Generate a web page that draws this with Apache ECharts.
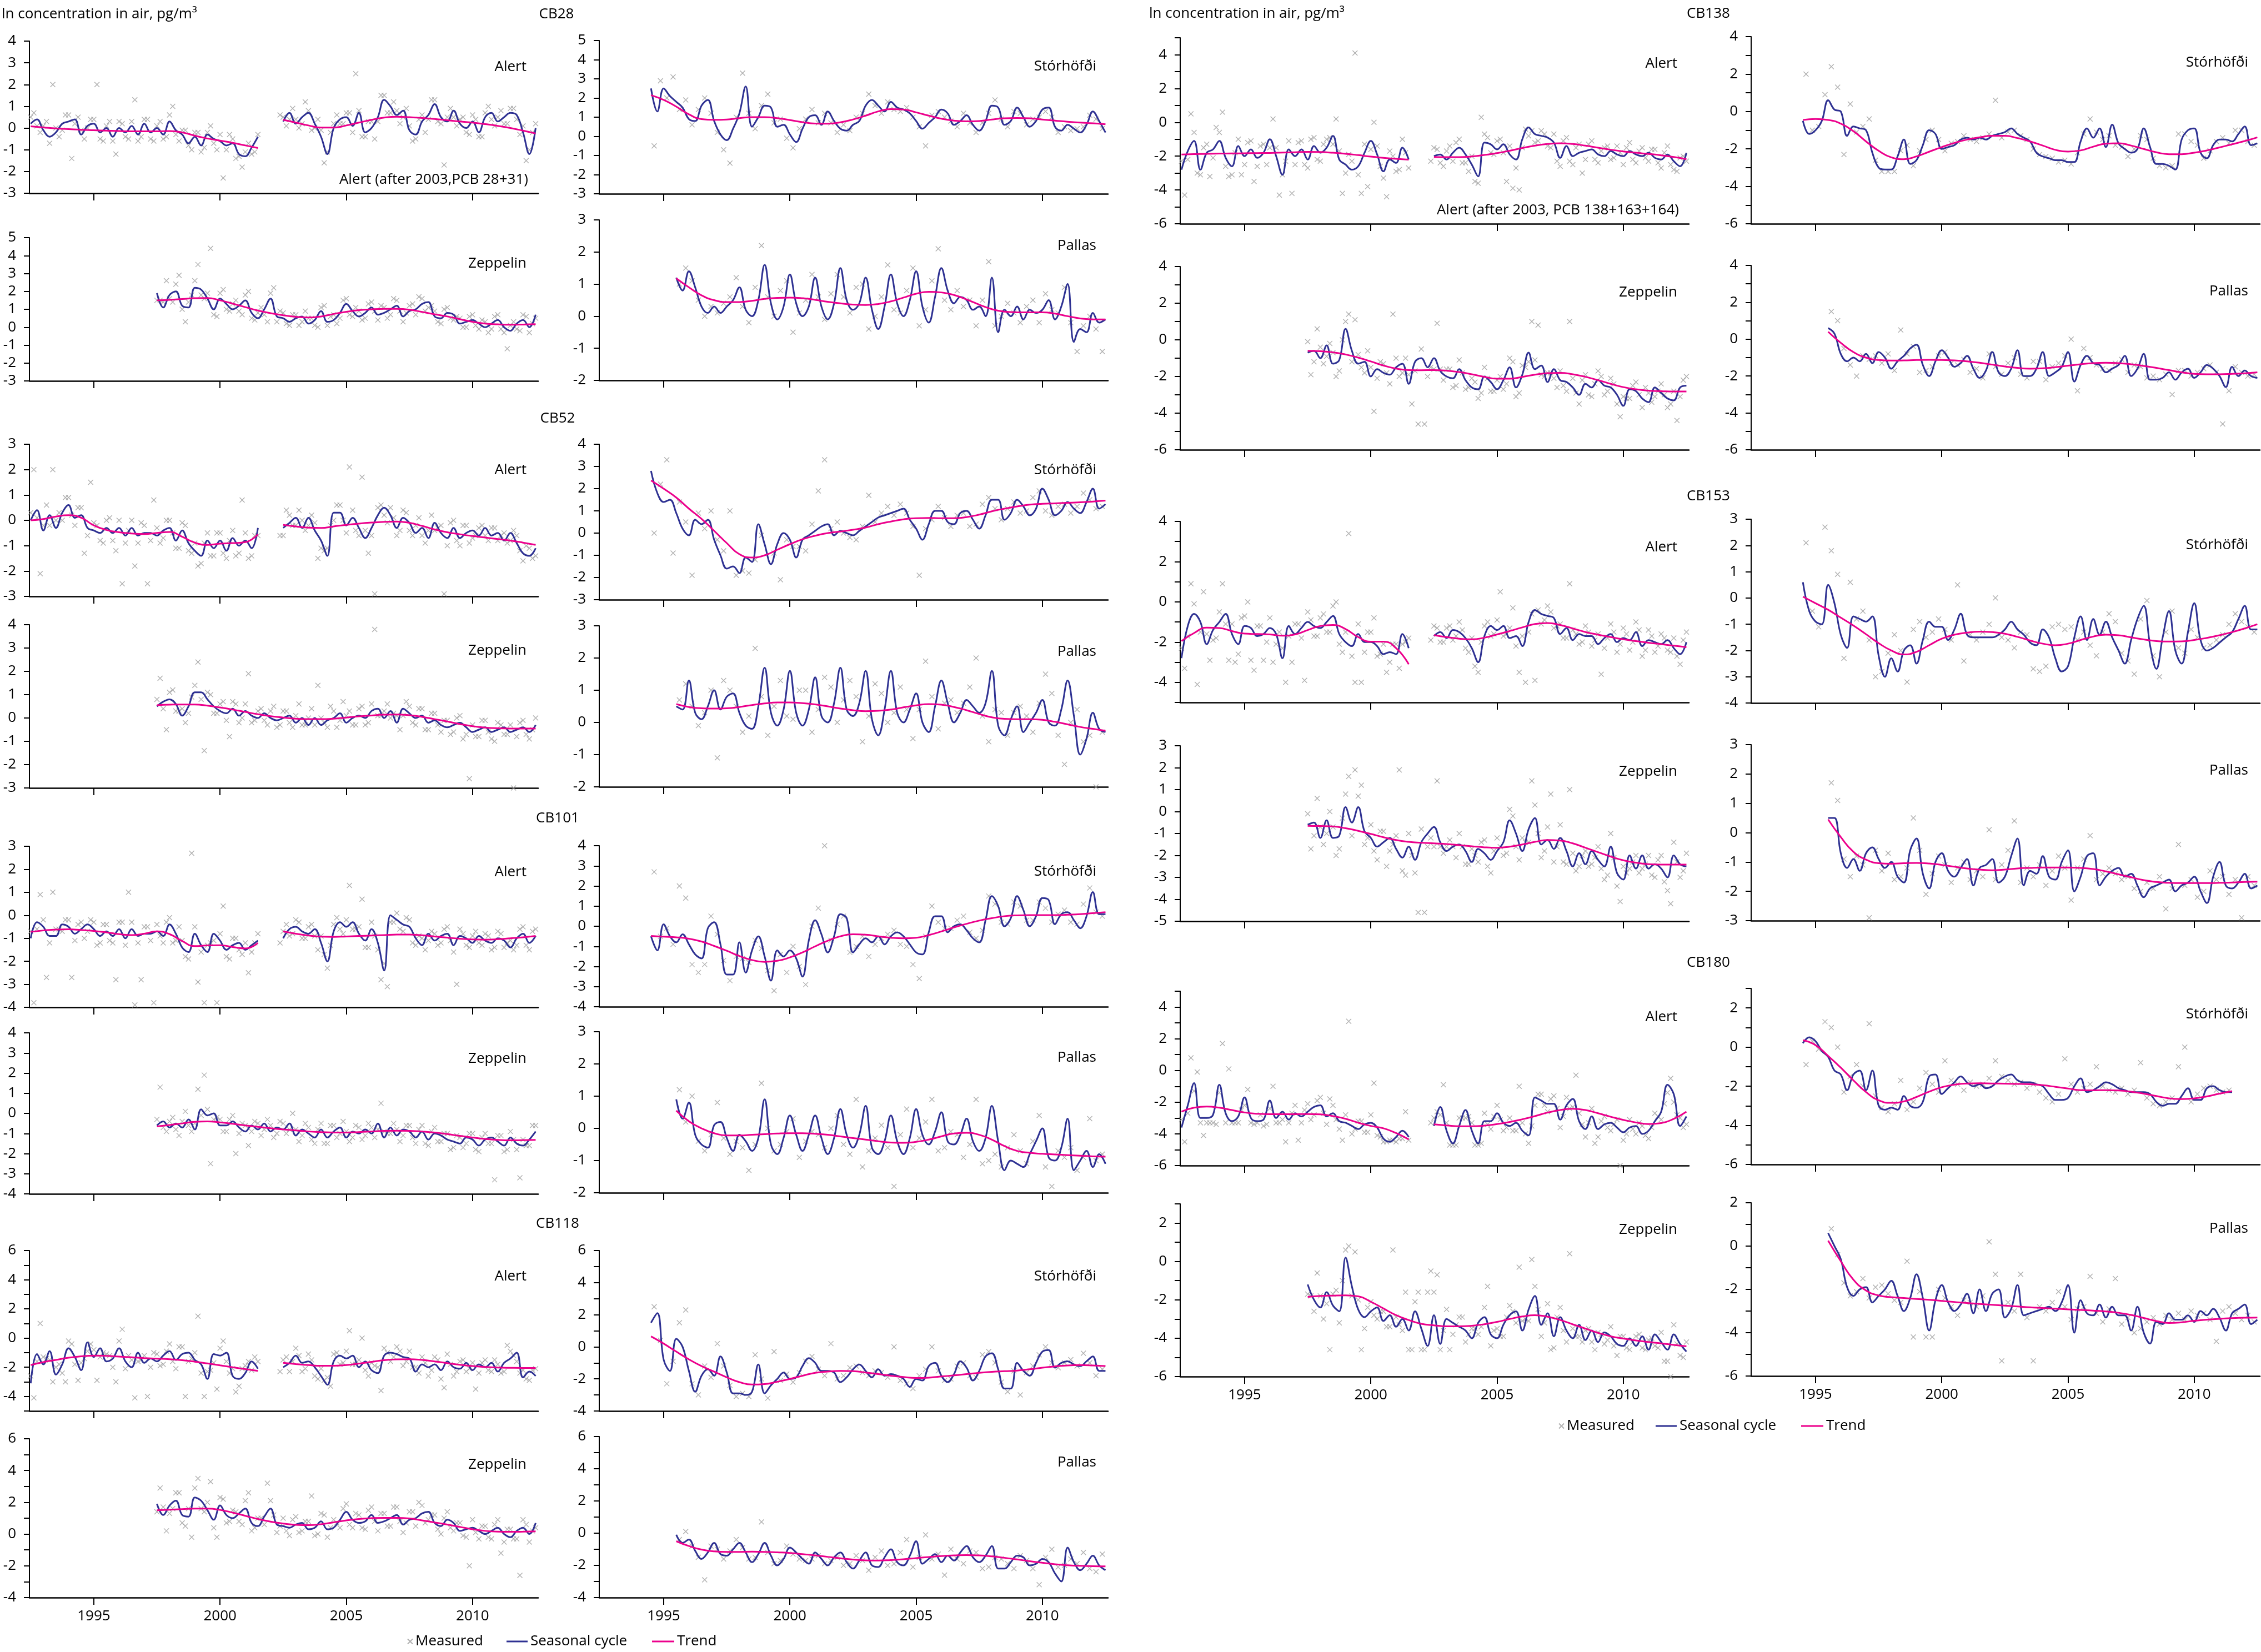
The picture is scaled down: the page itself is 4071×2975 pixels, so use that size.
<!DOCTYPE html>
<html lang="en">
<head>
<meta charset="UTF-8">
<title>PCB in Arctic air: seasonal cycle and trend</title>
<script src="https://cdn.jsdelivr.net/npm/echarts@6.0.0/dist/echarts.min.js"></script>
<style>
  html, body { margin: 0; padding: 0; background: #fff; }
  #chart { width: 4071px; height: 2975px; }
</style>
</head>
<body>
<div id="chart"></div>
<script>
// start of each station record (decimal year); seasonal every 0.25 yr, trend every 0.5 yr,
// measured every 0.25 yr offset by 0.125 yr (second measured set at the seasonal nodes
// for the densely sampled stations). null = no data (Alert gap 2001-2002)
const stationStart = { alert: 1992.5, stor: 1994.5, zep: 1997.5, pallas: 1995.5 };

// ---------- CB28 ----------
const cb28AlertSeason = [0.2,0.4,-0.1,-0.4,-0.2,0.2,0.3,0.4,-0.3,0.1,0.2,-0.2,0.0,-0.4,0.0,-0.2,0.1,-0.3,0.2,-0.2,0.0,-0.3,0.3,-0.1,-0.3,-0.7,-0.4,-0.8,-0.3,-0.5,-0.6,-0.8,-0.7,-1.2,-1.3,-0.9,-0.4,null,null,null,0.3,0.7,0.2,0.5,0.7,0.2,-0.4,-1.2,0.0,0.4,0.5,0.1,0.7,-0.2,0.0,0.5,1.3,1.0,0.6,0.8,-0.1,-0.3,0.3,0.6,1.1,0.5,0.3,0.8,0.2,0.0,0.3,-0.2,0.5,0.7,0.3,0.5,0.7,0.6,-0.2,-1.2,0.0];
const cb28AlertTrend = [0.08,0.03,-0.02,-0.05,-0.08,-0.1,-0.12,-0.14,-0.15,-0.15,-0.15,-0.14,-0.2,-0.35,-0.48,-0.58,-0.68,-0.8,-0.92,null,0.38,0.25,0.12,0.02,0.02,0.12,0.25,0.38,0.48,0.52,0.5,0.46,0.42,0.36,0.3,0.25,0.18,0.1,0.0,-0.12,-0.25];
const cb28AlertMeas = [0.7,-0.2,0.3,2.0,-0.4,0.6,-1.4,0.5,-0.5,0.4,2.0,-0.6,0.3,-1.2,0.2,-0.5,1.3,-0.4,0.4,-0.6,0.3,-0.4,1.0,-0.6,-0.1,-1.0,-0.2,-0.9,0.1,-1.0,-2.3,-0.3,-1.4,-1.8,-0.7,-1.1,null,null,null,0.6,0.1,0.9,0.0,1.2,-0.1,0.4,-1.6,-0.2,0.6,0.2,0.7,2.5,-0.4,0.3,-0.5,1.5,0.7,1.2,0.2,0.9,-0.6,0.4,-0.2,1.3,0.3,-1.7,0.9,0.1,0.5,-0.3,0.4,-0.4,1.0,0.1,0.8,0.2,0.9,-0.3,-1.5,-0.2];
const cb28AlertMeas2 = [0.5,0.1,0.1,-0.7,0.0,-0.1,0.6,0.2,-0.1,0.0,0.4,-0.5,0.1,-0.6,0.3,-0.4,0.3,-0.6,0.4,-0.5,0.1,-0.5,0.6,-0.3,-0.1,-0.8,-0.2,-1.1,-0.2,-0.7,-0.3,-1.0,-0.5,-1.3,-1.1,-1.2,-0.3,null,null,null,0.5,0.4,0.4,0.2,0.8,0.0,-0.1,-1.1,0.2,0.2,0.7,-0.2,0.8,-0.4,0.3,0.3,1.5,0.7,0.8,0.5,0.1,-0.5,0.6,0.4,1.3,0.2,0.5,0.5,0.4,-0.2,0.6,-0.4,0.7,0.4,0.5,0.2,0.9,0.4,0.1,-1.0,0.2];
const cb28StorSeason = [2.5,1.3,2.5,2.1,1.8,1.5,0.9,0.8,1.6,1.9,0.8,0.1,-0.2,0.4,1.2,2.6,0.5,1.0,1.6,1.5,0.5,0.6,0.1,-0.3,0.4,1.0,1.1,0.6,1.3,0.8,0.4,0.3,0.6,0.8,1.6,1.9,1.6,1.3,1.8,1.5,1.4,1.2,0.8,0.4,0.7,1.0,1.4,1.2,0.6,0.8,1.1,0.6,0.3,0.8,1.6,1.5,0.6,0.8,1.5,1.0,0.5,0.8,1.4,1.5,0.5,0.3,0.6,0.4,0.2,0.6,1.3,0.8,0.2];
const cb28StorTrend = [2.15,1.9,1.55,1.15,0.9,0.86,0.88,0.95,1.0,1.0,0.95,0.85,0.74,0.67,0.66,0.73,0.88,1.08,1.3,1.42,1.4,1.25,1.08,0.92,0.82,0.78,0.8,0.88,0.94,0.96,0.94,0.88,0.82,0.76,0.72,0.68,0.63];
const cb28StorMeas = [-0.5,2.9,2.0,3.1,1.4,1.9,0.6,1.4,2.0,1.2,0.2,-0.7,-1.4,1.0,3.3,1.2,0.4,1.6,2.2,0.7,0.9,-0.1,-0.6,0.4,0.9,1.4,0.7,1.2,0.7,0.2,0.6,0.3,1.0,1.2,2.2,1.6,1.2,1.8,1.4,1.3,1.5,1.0,0.5,-0.5,1.1,1.3,1.0,0.8,0.5,1.2,0.7,0.2,0.7,1.2,1.9,0.9,0.5,1.3,1.2,0.6,0.9,1.0,1.3,1.0,0.2,0.5,0.3,0.4,0.5,1.1,0.9,0.4];
const cb28ZepSeason = [1.9,1.1,1.8,2.0,1.2,1.1,2.2,2.1,1.6,1.0,1.6,1.3,1.0,1.2,1.5,0.8,0.5,1.0,1.6,0.6,0.5,0.3,0.5,0.6,0.2,0.4,0.9,0.3,0.4,0.8,1.3,0.9,0.6,0.8,1.1,0.7,0.8,1.0,1.2,0.6,0.9,1.0,1.3,1.4,0.6,0.5,0.8,0.7,0.2,0.3,0.4,0.2,0.0,0.2,0.4,0.0,-0.2,0.2,0.4,0.0,0.7];
const cb28ZepTrend = [1.5,1.53,1.57,1.62,1.63,1.5,1.32,1.12,0.93,0.78,0.67,0.58,0.54,0.6,0.74,0.86,0.95,1.0,1.02,1.02,0.98,0.85,0.72,0.6,0.45,0.3,0.2,0.16,0.14,0.15,0.17];
const cb28ZepMeas = [1.5,2.6,1.4,2.9,0.3,1.8,3.5,1.6,4.4,0.6,2.1,0.9,1.5,0.7,2.0,0.4,1.1,0.3,2.2,0.9,0.2,0.7,0.1,0.9,0.5,0.0,1.2,0.6,0.2,1.5,0.7,1.1,0.4,1.3,0.9,1.2,0.5,1.6,0.9,0.8,1.3,1.7,0.9,1.2,0.3,1.0,0.5,0.6,0.0,0.6,0.1,0.4,-0.3,0.6,-0.1,-1.2,0.3,-0.2,0.6,0.2];
const cb28ZepMeas2 = [1.5,1.4,1.6,2.4,1.0,1.4,2.6,1.8,1.9,0.7,1.9,1.0,1.3,0.9,1.8,0.5,0.8,0.7,1.9,0.3,0.8,0.1,0.7,0.3,0.5,0.1,1.1,0.1,0.7,0.5,1.6,0.6,0.9,0.5,1.4,0.4,1.1,0.7,1.5,0.3,1.2,0.7,1.6,1.1,0.9,0.2,1.1,0.4,0.5,0.0,0.7,-0.1,0.3,-0.1,0.7,-0.3,0.1,-0.1,0.7,-0.3,0.5];
const cb28PallasSeason = [1.2,0.8,1.4,0.9,0.3,0.1,0.3,0.1,0.3,0.5,0.9,0.2,0.0,0.5,1.6,0.4,-0.1,0.3,1.3,0.4,0.0,0.3,1.2,0.3,-0.1,0.4,1.5,0.5,0.2,0.4,1.2,0.2,-0.4,0.3,1.3,0.4,0.0,0.5,1.4,0.3,-0.2,0.6,1.5,0.8,0.4,0.6,0.5,0.2,0.3,0.0,1.2,-0.5,0.2,0.0,0.3,-0.1,0.2,0.1,0.2,0.5,-0.1,0.3,1.0,-0.8,-0.4,-0.5,0.1,-0.2,-0.1];
const cb28PallasTrend = [1.18,0.9,0.65,0.5,0.44,0.44,0.48,0.54,0.57,0.58,0.56,0.51,0.45,0.4,0.36,0.35,0.38,0.46,0.58,0.7,0.76,0.74,0.66,0.52,0.36,0.22,0.14,0.12,0.12,0.12,0.08,0.0,-0.07,-0.1,-0.1];
const cb28PallasMeas = [1.0,1.5,1.1,0.5,0.0,0.3,0.1,0.4,0.6,1.2,0.3,-0.2,0.9,2.2,0.6,0.0,0.8,1.1,-0.5,0.1,0.5,1.3,0.6,-0.1,0.7,1.3,0.6,0.1,0.9,1.0,-0.4,0.0,0.6,1.6,0.2,0.1,0.8,1.5,-0.3,0.2,1.1,2.1,0.5,0.2,0.8,0.3,0.5,-0.3,0.5,1.7,-0.3,0.0,0.4,0.1,-0.2,0.3,0.5,-0.2,0.7,0.2,0.1,0.9,-0.2,-1.1,-0.3,0.0,-0.4,-1.1];

// ---------- CB52 ----------
const cb52AlertSeason = [0.0,0.4,-0.4,0.2,-0.3,0.3,0.6,0.1,0.2,-0.3,-0.4,-0.5,-0.3,-0.5,-0.3,-0.6,-0.3,-0.6,-0.5,-0.5,-0.6,-0.4,-0.3,-0.8,-0.4,-0.9,-1.2,-1.4,-0.8,-1.1,-0.8,-1.2,-0.7,-1.0,-0.8,-1.1,-0.3,null,null,null,-0.3,-0.1,0.1,-0.3,0.1,-0.4,-0.8,-1.4,0.3,0.3,-0.2,0.1,-0.3,-0.7,-0.3,0.2,0.5,0.2,-0.3,0.1,-0.1,-0.5,-0.3,-0.7,-0.1,-0.5,-0.7,-0.3,-0.7,-0.5,-0.4,-0.6,-0.3,-0.6,-0.5,-0.8,-0.5,-0.9,-1.3,-1.4,-1.1];
const cb52AlertTrend = [0.0,0.05,0.15,0.2,0.1,-0.2,-0.38,-0.47,-0.52,-0.54,-0.5,-0.46,-0.65,-0.88,-0.97,-0.92,-0.9,-0.86,-0.55,null,-0.18,-0.24,-0.29,-0.3,-0.24,-0.18,-0.13,-0.09,-0.06,-0.05,-0.1,-0.22,-0.36,-0.47,-0.55,-0.62,-0.68,-0.74,-0.8,-0.88,-0.97];
const cb52AlertMeas = [2.0,-2.1,0.6,2.0,0.3,0.9,0.2,0.5,-1.3,1.5,-0.2,-0.9,0.1,-1.2,-2.5,-0.4,-1.8,-0.1,-2.5,0.8,-0.9,0.0,-0.5,-1.1,-0.2,-1.3,-1.8,-0.9,-1.4,-0.5,-1.3,-0.8,-1.4,0.8,-1.5,-0.6,null,null,null,-0.6,0.4,-0.2,0.4,-0.4,0.2,-1.5,-1.2,-0.2,0.6,0.0,2.1,-0.4,1.7,-1.3,-2.9,0.6,-0.1,0.1,-0.4,0.3,-0.6,0.1,-0.9,0.2,-0.3,-2.9,-0.1,-0.8,-0.2,-0.9,-0.6,-0.2,-0.8,-0.3,-0.6,-0.9,-0.4,-1.2,-1.0,-1.5];
const cb52AlertMeas2 = [0.3,0.1,-0.2,-0.2,0.0,0.0,0.9,-0.2,0.5,-0.6,-0.1,-0.8,0.0,-0.8,0.0,-0.9,0.0,-0.9,-0.2,-0.8,-0.3,-0.7,0.0,-1.1,-0.1,-1.2,-0.9,-1.7,-0.5,-1.4,-0.5,-1.5,-0.4,-1.3,-0.5,-1.4,-0.6,null,null,null,-0.6,0.2,-0.2,0.0,-0.2,-0.1,-1.1,-1.1,0.0,0.6,-0.5,0.4,-0.6,-0.4,-0.6,0.5,0.2,0.5,-0.6,0.4,-0.4,-0.2,-0.6,-0.4,-0.4,-0.2,-1.0,0.0,-1.0,-0.2,-0.7,-0.3,-0.6,-0.3,-0.8,-0.5,-0.8,-0.6,-1.6,-1.1,-1.4];
const cb52StorSeason = [2.8,1.8,1.4,1.5,0.9,0.2,-0.1,0.6,0.4,0.6,-0.3,-1.0,-1.6,-1.5,-1.8,-1.1,-1.3,0.4,-0.5,-1.4,-0.5,0.0,-0.3,-1.1,-0.3,-0.1,0.1,0.3,0.4,-0.1,0.1,0.0,-0.1,0.1,0.3,0.5,0.7,0.8,0.9,1.0,1.1,0.6,0.2,-0.3,0.4,1.0,1.0,0.5,0.4,0.9,1.0,0.6,0.2,0.8,1.5,1.5,0.6,0.9,1.5,1.2,0.8,1.1,2.0,1.5,0.8,1.0,1.4,1.1,0.9,1.4,2.0,1.1,1.3];
const cb52StorTrend = [2.37,2.0,1.6,1.1,0.64,0.1,-0.45,-0.95,-1.1,-1.0,-0.75,-0.5,-0.28,-0.12,0.0,0.07,0.15,0.25,0.4,0.52,0.62,0.67,0.68,0.67,0.67,0.72,0.83,0.98,1.1,1.2,1.28,1.32,1.34,1.36,1.39,1.42,1.46];
const cb52StorMeas = [0.0,2.2,3.3,-0.9,1.4,0.5,-1.9,0.9,0.2,1.0,-0.3,-0.8,1.0,-1.9,-1.7,-1.8,-1.2,-0.1,-3.2,-0.9,-2.1,-0.3,-0.6,-0.6,-0.8,0.4,1.9,3.3,0.2,0.5,0.0,-0.2,-0.3,0.3,1.7,0.5,0.9,1.2,0.8,1.3,0.9,0.3,-1.9,0.2,0.6,1.2,0.7,0.3,0.8,0.9,0.3,0.4,1.3,1.6,1.1,0.6,1.1,1.4,0.9,1.0,1.6,1.9,1.0,0.8,1.2,1.3,0.9,1.2,1.8,1.5,1.1,1.2];
const cb52ZepSeason = [0.5,0.7,0.8,0.6,0.1,0.5,1.1,1.1,0.8,0.5,0.3,0.2,0.4,0.1,0.3,0.1,0.0,0.2,0.0,-0.1,0.0,0.1,-0.2,0.0,-0.3,0.0,-0.3,-0.1,0.0,0.2,-0.2,0.0,0.1,0.0,0.3,0.4,0.0,0.3,-0.2,0.4,0.2,0.0,0.1,-0.2,-0.1,-0.3,-0.4,-0.3,-0.2,-0.4,-0.6,-0.5,-0.4,-0.6,-0.5,-0.4,-0.6,-0.5,-0.4,-0.6,-0.3];
const cb52ZepTrend = [0.55,0.57,0.58,0.58,0.53,0.45,0.36,0.26,0.16,0.08,0.02,-0.03,-0.05,-0.05,-0.03,0.02,0.07,0.11,0.14,0.15,0.12,0.05,-0.05,-0.15,-0.26,-0.35,-0.41,-0.44,-0.45,-0.45,-0.45];
const cb52ZepMeas = [1.7,-0.5,1.2,0.3,-0.2,0.9,2.4,-1.4,1.0,0.2,0.7,-0.8,0.6,0.0,1.9,-0.1,0.4,-0.3,0.5,-0.3,0.3,-0.4,0.6,-0.3,0.4,1.4,-0.2,0.5,-0.4,0.7,0.3,-0.3,0.5,-0.2,3.8,0.1,0.6,0.2,-0.5,0.7,-0.2,0.4,-0.5,0.2,-0.3,-0.1,-0.7,0.0,-0.9,-2.6,-0.8,-0.1,-0.6,-1.0,-0.3,-0.7,-3.0,-0.2,-0.7,-0.5];
const cb52ZepMeas2 = [0.8,0.4,1.1,0.3,0.4,0.2,1.4,0.8,1.1,0.2,0.6,-0.1,0.7,-0.2,0.6,-0.2,0.3,-0.1,0.3,-0.4,0.3,-0.2,0.1,-0.3,0.0,-0.3,0.0,-0.4,0.3,-0.1,0.1,-0.3,0.4,-0.3,0.6,0.1,0.3,0.0,0.1,0.1,0.5,-0.3,0.4,-0.5,0.2,-0.6,-0.1,-0.6,0.1,-0.7,-0.3,-0.8,-0.1,-0.9,-0.2,-0.7,-0.3,-0.8,-0.1,-0.9,0.0];
const cb52PallasSeason = [0.5,0.4,1.3,0.3,0.1,0.5,1.0,0.4,0.8,0.9,0.3,-0.1,-0.2,0.5,1.7,0.3,-0.1,0.4,1.6,0.3,-0.1,0.4,1.4,0.2,0.0,0.6,1.7,0.4,0.2,0.6,1.6,0.1,-0.4,0.4,1.6,0.3,0.0,0.4,0.9,0.0,-0.3,0.5,1.3,0.6,0.0,0.3,0.7,0.5,0.3,0.6,1.6,-0.1,-0.4,0.1,0.5,-0.3,0.0,0.3,0.7,0.0,-0.1,0.4,1.3,0.2,-1.0,-0.5,0.3,-0.2,-0.3];
const cb52PallasTrend = [0.57,0.48,0.44,0.43,0.44,0.48,0.54,0.59,0.62,0.62,0.6,0.56,0.5,0.43,0.38,0.35,0.36,0.4,0.47,0.53,0.57,0.55,0.48,0.38,0.26,0.16,0.11,0.1,0.1,0.08,0.02,-0.06,-0.14,-0.2,-0.26];
const cb52PallasMeas = [0.7,1.2,0.5,-0.1,0.3,1.0,-1.1,1.3,1.0,0.5,-0.3,0.2,2.3,0.8,-0.4,0.5,1.3,0.2,0.1,1.0,1.0,-0.3,0.4,1.4,1.1,0.0,0.7,1.3,0.8,-0.6,0.2,1.2,0.9,0.0,0.3,1.1,0.4,-0.5,0.4,1.9,0.8,-0.2,0.6,0.7,0.3,0.6,1.1,2.0,0.2,-0.6,0.4,0.3,-0.4,0.3,0.5,0.2,-0.3,0.6,1.5,0.9,-0.4,-1.3,0.0,0.4,-0.6,-0.4,-2.0,-0.3];

// ---------- CB101 ----------
const cb101AlertSeason = [-1.0,-0.3,-0.5,-0.9,-0.9,-0.4,-0.5,-0.8,-0.6,-0.4,-0.6,-0.9,-0.7,-0.9,-0.6,-1.0,-0.6,-0.9,-0.8,-0.8,-0.7,-0.9,-0.4,-0.8,-1.4,-1.6,-0.8,-1.3,-1.6,-0.8,-1.1,-1.5,-1.3,-1.2,-1.5,-1.3,-1.1,null,null,null,-1.0,-0.6,-0.5,-0.7,-0.8,-0.6,-1.2,-2.0,-0.7,-0.3,-0.5,-0.3,-0.8,-1.1,-0.6,-1.2,-2.4,0.0,-0.2,-0.4,-0.5,-1.0,-1.3,-0.8,-1.1,-0.9,-0.8,-1.3,-0.9,-1.0,-1.2,-0.9,-1.1,-1.2,-1.0,-1.1,-1.4,-1.0,-0.8,-1.2,-0.9];
const cb101AlertTrend = [-0.72,-0.66,-0.62,-0.61,-0.64,-0.68,-0.74,-0.82,-0.86,-0.8,-0.7,-0.82,-1.12,-1.34,-1.31,-1.3,-1.38,-1.44,-1.2,null,-0.7,-0.8,-0.88,-0.93,-0.94,-0.92,-0.9,-0.88,-0.86,-0.84,-0.84,-0.87,-0.92,-0.97,-1.02,-1.05,-1.06,-1.04,-1.0,-0.96,-0.9];
const cb101AlertMeas = [-3.8,0.9,-2.7,1.0,-0.6,-0.2,-2.7,-0.4,-1.0,-0.2,-1.3,-0.4,-1.1,-2.8,-0.3,1.0,-3.9,-2.8,-0.5,-3.8,-0.9,-0.3,-1.2,-0.5,-1.8,2.7,-2.9,-3.8,-1.2,-3.8,0.4,-1.9,-1.0,-1.7,-2.5,-1.2,null,null,null,-1.2,-0.4,-0.8,-0.3,-1.0,-0.4,-1.5,-1.7,-1.3,-0.1,-0.8,1.3,-0.6,0.7,-1.4,-0.9,-2.8,-3.1,-0.3,-0.6,-0.1,-1.2,-0.9,-1.5,-0.7,-1.3,-0.6,-1.1,-3.0,-0.8,-1.4,-0.7,-1.3,-0.9,-1.4,-0.8,-1.2,-1.5,-0.6,-1.3,-0.7];
const cb101AlertMeas2 = [-0.7,-0.6,-0.2,-1.2,-0.6,-0.7,-0.2,-1.1,-0.3,-0.7,-0.3,-1.2,-0.4,-1.2,-0.3,-1.3,-0.3,-1.2,-0.5,-1.1,-0.4,-1.2,-0.1,-1.1,-1.1,-1.9,-0.5,-1.6,-1.3,-1.1,-0.8,-1.8,-1.0,-1.5,-1.2,-1.6,-0.8,null,null,null,-0.7,-0.9,-0.2,-1.0,-0.5,-0.9,-0.9,-2.3,-0.4,-0.6,-0.2,-0.6,-0.5,-1.4,-0.3,-1.5,-2.1,-0.3,0.1,-0.7,-0.2,-1.3,-1.0,-1.1,-0.8,-1.2,-0.5,-1.6,-0.6,-1.3,-0.9,-1.2,-0.8,-1.5,-0.7,-1.4,-1.1,-1.3,-0.5,-1.5,-0.6];
const cb101StorSeason = [-0.5,-1.2,0.1,-0.5,-0.8,-0.4,-0.9,-1.4,-1.6,-0.1,0.2,-0.9,-2.4,-2.4,-0.8,-2.3,-1.2,-0.5,-1.5,-2.7,-1.2,-1.5,-1.2,-1.6,-2.5,-0.7,0.3,-0.4,-1.3,-0.5,0.6,0.4,-1.3,-0.9,-0.6,-0.8,-0.5,-0.9,-0.5,-0.3,-0.5,-0.9,-1.3,-1.4,-0.3,0.5,0.5,-0.3,0.0,0.1,-0.2,-0.6,-0.8,0.3,1.5,1.0,0.0,0.4,1.5,0.8,0.0,0.5,1.4,1.3,0.1,0.6,0.7,0.3,-0.1,0.5,1.7,0.6,0.6];
const cb101StorTrend = [-0.48,-0.52,-0.55,-0.62,-0.76,-0.98,-1.22,-1.48,-1.68,-1.77,-1.72,-1.55,-1.3,-1.0,-0.72,-0.5,-0.4,-0.42,-0.5,-0.57,-0.6,-0.57,-0.44,-0.26,-0.06,0.12,0.28,0.4,0.5,0.54,0.55,0.55,0.55,0.57,0.6,0.65,0.7];
const cb101StorMeas = [2.7,-0.5,-0.1,-0.9,2.0,1.4,-1.9,-2.3,-1.9,0.5,-0.4,-1.7,-2.7,-1.5,-1.6,-1.8,-0.7,-1.1,-2.2,-3.2,-1.4,-2.3,-1.0,-2.0,-2.9,0.0,0.9,4.0,-0.7,0.1,0.5,-1.3,-1.0,-0.5,-1.5,-0.9,-0.6,-0.4,-0.2,-0.9,-1.0,-1.9,-2.6,-0.5,1.0,0.2,-0.1,-0.1,0.3,0.5,-0.3,-0.6,-0.2,1.5,1.1,0.2,0.1,1.2,1.0,0.3,0.3,1.2,0.9,0.2,0.6,0.8,0.2,0.1,1.1,1.9,0.7,0.5];
const cb101ZepSeason = [-0.6,-0.4,-0.7,-0.5,-0.7,-0.3,-0.8,0.2,-0.1,0.0,-0.6,-0.6,-0.4,-0.7,-0.9,-0.6,-0.8,-0.5,-0.9,-0.7,-0.8,-0.5,-1.1,-0.8,-1.0,-1.2,-0.8,-1.2,-0.9,-0.7,-1.2,-0.9,-1.0,-0.8,-1.0,-0.5,-1.2,-0.7,-1.1,-0.8,-0.9,-1.2,-0.9,-1.3,-1.0,-1.1,-1.3,-1.4,-1.5,-1.2,-1.3,-1.6,-1.3,-1.2,-1.4,-1.6,-1.2,-1.5,-1.6,-1.3,-0.9];
const cb101ZepTrend = [-0.65,-0.58,-0.5,-0.42,-0.4,-0.45,-0.52,-0.6,-0.67,-0.74,-0.8,-0.85,-0.9,-0.93,-0.95,-0.95,-0.93,-0.9,-0.87,-0.86,-0.87,-0.9,-0.95,-1.03,-1.12,-1.2,-1.27,-1.32,-1.34,-1.33,-1.32];
const cb101ZepMeas = [1.3,-0.9,-0.2,-1.1,0.1,-0.9,1.2,1.9,-2.5,-0.2,-0.9,-0.3,-2.0,-0.5,-1.6,-0.4,-1.1,-0.3,-1.2,-0.4,-1.0,0.0,-1.4,-0.5,-1.3,-0.8,-1.5,-0.6,-1.2,-0.4,-1.4,-0.6,-1.3,-0.5,-1.2,0.5,-1.0,-0.5,-1.4,-0.6,-1.2,-0.8,-1.5,-0.9,-1.4,-1.0,-1.8,-1.1,-1.7,-1.0,-1.8,-1.2,-1.5,-3.3,-1.1,-1.8,-1.3,-3.2,-1.6,-0.6];
const cb101ZepMeas2 = [-0.3,-0.7,-0.4,-0.8,-0.4,-0.6,-0.5,-0.1,0.2,-0.3,-0.3,-0.9,-0.1,-1.0,-0.6,-0.9,-0.5,-0.8,-0.6,-1.0,-0.5,-0.8,-0.8,-1.1,-0.7,-1.5,-0.5,-1.5,-0.6,-1.0,-0.9,-1.2,-0.7,-1.1,-0.7,-0.8,-0.9,-1.0,-0.8,-1.1,-0.6,-1.5,-0.6,-1.6,-0.7,-1.4,-1.0,-1.7,-1.2,-1.5,-1.0,-1.9,-1.0,-1.5,-1.1,-1.9,-0.9,-1.8,-1.3,-1.6,-0.6];
const cb101PallasSeason = [0.9,0.3,0.8,-0.2,-0.5,-0.6,0.1,0.2,-0.3,-0.7,-0.2,-0.4,-0.7,-0.3,0.9,-0.5,-0.8,-0.3,0.4,-0.2,-0.7,-0.2,0.4,-0.3,-0.8,-0.3,0.6,-0.2,-0.6,-0.2,0.7,-0.6,-0.8,-0.4,0.4,-0.4,-0.8,-0.3,0.6,-0.2,-0.5,-0.1,0.5,-0.4,-0.5,-0.2,0.3,-0.4,-0.7,-0.3,0.7,-0.4,-1.3,-1.0,-1.1,-1.2,-0.8,-0.4,0.0,-0.9,-1.0,-0.6,0.3,-1.3,-1.0,-0.7,-1.2,-0.8,-1.1];
const cb101PallasTrend = [0.55,0.22,0.0,-0.15,-0.22,-0.22,-0.2,-0.18,-0.16,-0.15,-0.15,-0.17,-0.2,-0.25,-0.3,-0.35,-0.4,-0.44,-0.45,-0.42,-0.35,-0.25,-0.16,-0.14,-0.2,-0.35,-0.55,-0.7,-0.76,-0.79,-0.81,-0.83,-0.85,-0.87,-0.88];
const cb101PallasMeas = [1.2,0.2,1.0,-0.4,-0.7,-0.2,0.8,-0.3,-0.8,-0.4,-0.6,-1.3,-0.5,1.4,0.0,-0.7,-0.5,-0.1,0.3,-0.9,-0.4,-0.1,-0.2,-0.6,0.0,0.4,-0.5,-0.8,0.9,-1.2,-0.7,-0.3,0.1,-0.6,-1.8,-0.2,0.6,-0.6,-0.3,0.2,0.9,-0.7,-0.6,-0.1,-0.2,-0.9,-0.5,0.9,-1.1,-1.0,-0.8,-1.2,-0.6,-0.2,-0.7,-1.1,-0.4,0.4,-1.2,-1.8,-0.7,-0.9,-0.6,-1.3,-0.9,0.3,-1.0,-0.8];

// ---------- CB118 ----------
const cb118AlertSeason = [-3.1,-1.1,-1.8,-0.9,-2.5,-1.8,-0.7,-1.3,-2.2,-0.3,-1.3,-0.7,-1.6,-1.4,-0.7,-1.6,-2.0,-1.0,-1.7,-1.4,-1.6,-1.2,-0.9,-1.5,-1.1,-1.0,-1.5,-1.8,-2.8,-1.1,-1.2,-1.0,-2.6,-2.8,-2.4,-1.6,-2.1,null,null,null,-2.0,-1.7,-1.2,-1.7,-1.6,-2.0,-2.6,-3.2,-1.6,-1.2,-1.4,-1.2,-2.0,-1.6,-2.2,-2.4,-1.2,-1.0,-1.1,-1.3,-1.4,-2.3,-1.8,-2.0,-1.8,-2.2,-1.6,-2.0,-2.1,-1.7,-2.2,-1.8,-2.0,-1.7,-2.3,-1.7,-1.4,-1.0,-2.7,-2.3,-2.6];
const cb118AlertTrend = [-1.85,-1.65,-1.5,-1.35,-1.25,-1.2,-1.22,-1.27,-1.32,-1.37,-1.41,-1.45,-1.52,-1.62,-1.74,-1.87,-2.0,-2.13,-2.25,null,-1.7,-1.78,-1.85,-1.9,-1.9,-1.85,-1.75,-1.63,-1.52,-1.46,-1.45,-1.5,-1.6,-1.72,-1.83,-1.92,-1.98,-2.02,-2.04,-2.05,-2.05];
const cb118AlertMeas = [-4.1,1.0,-1.4,-3.0,-1.8,-3.0,-0.4,-2.9,-1.4,-0.4,-2.9,-1.0,-1.2,-3.0,0.6,-1.2,-4.1,-1.5,-4.0,-1.0,-1.9,-0.9,-1.6,-0.6,-4.0,-1.4,1.5,-4.0,-2.2,-3.5,-0.2,-2.4,-3.7,-2.1,-1.6,-1.3,null,null,null,-2.3,-1.3,-1.6,-1.2,-2.1,-1.5,-2.8,-2.9,-3.3,-1.0,-1.7,0.5,-1.8,0.0,-2.6,-1.9,-3.6,-1.0,-1.3,-0.9,-1.6,-2.0,-2.4,-1.7,-2.2,-1.5,-3.4,-1.8,-2.3,-1.5,-2.1,-3.5,-1.7,-2.2,-1.5,-2.4,-0.5,-1.2,-2.4,-2.8,-2.2];
const cb118AlertMeas2 = [-2.6,-1.6,-1.3,-1.5,-2.0,-2.4,-0.2,-1.8,-1.7,-0.9,-0.8,-1.3,-1.1,-2.0,-0.2,-2.1,-1.5,-1.6,-1.2,-2.0,-1.1,-1.8,-0.4,-2.1,-0.6,-1.6,-1.0,-2.4,-2.3,-1.7,-0.7,-1.6,-2.1,-3.3,-1.9,-2.2,-1.6,null,null,null,-1.5,-2.3,-0.7,-2.3,-1.1,-2.6,-2.1,-2.7,-1.1,-1.8,-0.9,-1.8,-1.5,-2.2,-1.7,-2.0,-0.7,-1.6,-0.6,-1.9,-0.9,-2.0,-1.3,-2.6,-1.3,-2.8,-1.1,-2.6,-1.6,-2.3,-1.7,-2.4,-1.5,-2.3,-1.8,-2.3,-0.9,-1.6,-2.2,-2.9,-2.1];
const cb118StorSeason = [1.5,2.1,-0.8,-1.5,0.5,0.0,-1.5,-2.8,-1.8,-1.4,-1.8,-0.6,-1.6,-2.9,-2.9,-3.0,-2.8,-1.1,-2.9,-2.4,-2.0,-1.6,-2.0,-1.9,-1.2,-0.7,-1.0,-1.5,-1.5,-1.6,-2.2,-1.9,-1.4,-1.1,-1.5,-1.9,-1.4,-1.8,-1.7,-1.8,-2.0,-2.5,-2.0,-2.1,-1.2,-1.0,-1.8,-2.2,-1.7,-0.9,-1.3,-2.1,-1.5,-0.6,-0.4,-1.4,-2.6,-2.6,-1.0,-1.5,-1.8,-1.0,-0.3,-0.2,-1.3,-1.0,-0.9,-1.1,-1.2,-0.9,-0.6,-1.5,-1.5];
const cb118StorTrend = [0.65,0.2,-0.3,-0.78,-1.2,-1.55,-1.9,-2.2,-2.35,-2.32,-2.18,-2.0,-1.8,-1.62,-1.54,-1.5,-1.52,-1.6,-1.7,-1.8,-1.88,-1.94,-1.92,-1.85,-1.78,-1.7,-1.62,-1.56,-1.52,-1.48,-1.4,-1.3,-1.22,-1.16,-1.14,-1.16,-1.2];
const cb118StorMeas = [2.5,0.4,-2.3,-0.9,1.5,2.3,-2.3,-3.0,-1.2,-1.9,0.2,-1.2,-2.4,-3.1,-2.9,-3.1,-0.5,-2.0,-3.2,-0.3,-2.1,-1.7,-2.2,-1.6,-0.9,-0.6,-1.4,-1.8,0.2,-2.0,-1.8,-1.3,-1.2,-1.6,-1.8,-1.5,-1.6,-1.9,0.0,-2.1,-2.3,-2.6,-1.8,-1.4,0.0,-1.5,-2.1,-2.0,-1.2,-1.0,-1.8,-1.9,-0.5,-0.3,-1.0,-2.2,-2.8,-1.5,-3.0,-1.6,-1.2,-0.5,0.0,-1.0,-1.3,-1.0,-0.8,-1.2,-0.4,-1.0,-1.8,-1.4];
const cb118ZepSeason = [1.9,1.2,1.8,2.1,1.2,1.1,2.3,2.1,1.5,0.9,1.8,1.2,1.0,1.3,1.6,0.7,0.5,1.1,1.6,0.6,0.5,0.4,0.6,0.7,0.3,0.4,0.8,0.3,0.4,0.9,1.4,0.9,0.7,0.8,1.2,0.7,0.8,1.0,1.2,0.6,0.9,1.0,1.3,1.4,0.7,0.5,0.9,0.7,0.2,0.3,0.4,0.2,0.0,0.2,0.4,0.0,-0.2,0.2,0.4,0.0,0.7];
const cb118ZepTrend = [1.5,1.53,1.57,1.6,1.6,1.52,1.35,1.15,0.95,0.78,0.66,0.58,0.56,0.62,0.74,0.86,0.95,1.0,1.02,1.02,0.98,0.86,0.73,0.6,0.45,0.3,0.2,0.15,0.14,0.15,0.17];
const cb118ZepMeas = [2.9,0.2,1.6,2.6,0.5,-0.2,3.5,1.4,3.3,-0.2,2.2,0.8,1.4,0.6,2.6,0.4,1.0,3.2,1.2,0.5,0.2,0.9,0.1,0.8,2.4,0.0,1.2,0.4,0.7,1.6,0.6,1.3,0.4,1.5,0.8,1.3,0.5,1.7,0.8,0.7,1.4,2.0,0.7,1.2,0.3,1.0,0.4,0.7,-0.1,-2.0,0.1,0.5,-0.2,0.6,-1.2,0.3,-0.3,-2.6,0.6,0.2];
const cb118ZepMeas2 = [1.4,1.7,1.3,2.6,0.7,1.6,2.9,1.6,2.0,0.4,2.3,0.7,1.5,0.8,2.1,0.2,1.0,0.6,2.1,0.1,1.0,-0.1,1.1,0.2,0.8,-0.1,1.3,-0.2,0.9,0.4,1.9,0.4,1.2,0.3,1.7,0.2,1.3,0.5,1.7,0.1,1.4,0.5,1.8,0.9,1.2,0.0,1.4,0.2,0.7,-0.2,0.9,-0.3,0.5,-0.3,0.9,-0.5,0.3,-0.3,0.9,-0.5,0.4];
const cb118PallasSeason = [-0.1,-0.6,-0.4,-1.1,-1.6,-1.2,-0.6,-1.3,-1.4,-1.0,-0.6,-1.2,-1.8,-1.3,-0.6,-1.4,-2.0,-1.6,-0.9,-1.2,-1.6,-1.9,-1.2,-1.6,-2.0,-1.5,-1.2,-1.8,-2.2,-1.7,-1.2,-2.0,-2.1,-1.5,-1.0,-1.8,-2.0,-1.4,-0.5,-1.9,-1.6,-1.3,-1.8,-1.4,-1.7,-1.2,-0.8,-1.5,-1.8,-1.4,-0.8,-2.2,-2.2,-1.8,-1.4,-1.5,-2.0,-1.9,-1.6,-1.8,-2.5,-3.0,-0.9,-1.8,-2.3,-1.9,-1.4,-2.0,-2.3];
const cb118PallasTrend = [-0.5,-0.8,-1.02,-1.13,-1.16,-1.16,-1.15,-1.16,-1.19,-1.23,-1.3,-1.38,-1.47,-1.56,-1.64,-1.69,-1.7,-1.67,-1.62,-1.55,-1.48,-1.42,-1.38,-1.36,-1.38,-1.44,-1.53,-1.63,-1.74,-1.84,-1.93,-1.99,-2.03,-2.05,-2.06];
const cb118PallasMeas = [-0.4,0.1,-0.8,-1.5,-2.9,-0.8,-1.0,-1.6,-1.1,-0.4,-0.9,-1.6,-1.5,0.7,-1.2,-1.9,-1.7,-0.8,-1.3,-1.6,-1.7,-1.6,-1.4,-1.9,-1.7,-1.5,-2.0,-1.9,-1.4,-1.7,-2.3,-1.5,-1.1,-2.0,-1.9,-1.2,-0.4,-2.1,-1.5,-0.1,-1.6,-1.3,-2.6,-1.0,-1.6,-1.9,-1.1,-1.2,-2.2,-2.1,-1.5,-1.6,-1.9,-2.2,-1.4,-1.7,-2.2,-3.2,-1.5,-1.0,-2.1,-2.0,-1.6,-1.9,-1.2,-2.2,-2.4,-1.3];

// ---------- CB138 ----------
const cb138AlertSeason = [-2.8,-1.7,-1.1,-2.8,-1.8,-1.6,-1.1,-2.1,-2.6,-1.4,-2.0,-1.6,-2.1,-1.8,-1.0,-2.0,-3.1,-1.6,-2.0,-1.6,-2.2,-1.4,-1.8,-1.5,-0.8,-2.2,-2.5,-2.8,-2.6,-1.8,-1.1,-1.9,-2.9,-2.2,-2.4,-1.5,-2.2,null,null,null,-2.0,-1.9,-2.2,-1.8,-1.5,-1.9,-2.5,-3.2,-1.2,-1.3,-1.6,-1.3,-1.9,-2.2,-1.0,-0.3,-0.7,-0.8,-0.9,-1.2,-2.1,-1.4,-2.0,-1.8,-1.7,-1.6,-1.9,-2.0,-1.7,-1.9,-2.0,-1.7,-1.9,-2.0,-1.8,-2.1,-2.2,-1.9,-2.3,-2.6,-1.8];
const cb138AlertTrend = [-1.9,-1.88,-1.86,-1.85,-1.84,-1.83,-1.82,-1.81,-1.79,-1.77,-1.75,-1.76,-1.8,-1.86,-1.94,-2.03,-2.1,-2.16,-2.21,null,-2.05,-2.06,-2.06,-2.02,-1.93,-1.82,-1.68,-1.52,-1.38,-1.28,-1.24,-1.28,-1.38,-1.5,-1.62,-1.72,-1.8,-1.87,-1.95,-2.05,-2.18];
const cb138AlertMeas = [-4.3,0.5,-3.0,-1.5,-3.2,-0.3,0.6,-3.2,-1.8,-3.1,-1.2,-3.5,-1.4,-2.5,0.2,-4.3,-2.3,-4.2,-1.2,-2.5,-1.0,-2.2,-1.3,-0.9,0.2,-4.2,-1.9,4.1,-4.2,-3.8,0.0,-2.6,-4.4,-2.0,-2.8,-1.8,null,null,null,-2.3,-1.6,-2.6,-1.4,-1.2,-2.4,-2.9,-3.5,0.3,-0.9,-1.9,-1.0,-3.5,-3.9,-4.0,-0.4,-0.5,-1.1,-0.7,-1.5,-2.3,-1.1,-2.3,-1.5,-3.0,-1.3,-2.2,-1.7,-1.4,-2.1,-1.8,-1.5,-2.2,-1.7,-2.1,-1.6,-2.4,-1.8,-2.5,-2.9,-2.0];
const cb138AlertMeas2 = [-2.3,-2.2,-0.6,-3.1,-1.3,-2.1,-0.6,-2.6,-3.1,-1.0,-2.5,-1.1,-2.6,-1.3,-1.5,-1.5,-3.1,-1.1,-2.5,-1.1,-2.7,-0.9,-2.3,-1.0,-1.3,-1.7,-3.0,-2.3,-3.1,-1.3,-1.6,-1.4,-3.3,-1.7,-2.9,-1.0,-2.7,null,null,null,-1.5,-2.4,-1.7,-2.3,-1.0,-2.4,-2.0,-3.6,-0.7,-1.8,-1.1,-1.8,-1.4,-2.7,-1.5,-0.8,-1.2,-0.5,-1.4,-0.7,-2.6,-0.9,-2.5,-1.3,-2.2,-1.1,-2.4,-1.5,-2.2,-1.4,-2.5,-1.2,-2.4,-1.5,-2.3,-1.6,-2.7,-1.4,-2.8,-2.1,-2.3];
const cb138StorSeason = [-0.5,-1.2,-1.0,-0.5,0.6,0.1,0.0,-1.3,-0.8,-0.9,-1.0,-2.2,-3.0,-3.1,-3.1,-2.4,-1.5,-2.8,-2.6,-1.8,-1.0,-1.2,-2.0,-1.9,-1.8,-1.5,-1.4,-1.5,-1.4,-1.5,-1.3,-1.2,-1.1,-0.9,-1.2,-1.4,-1.6,-2.2,-2.4,-2.5,-2.6,-2.6,-2.7,-2.7,-1.6,-0.9,-1.4,-0.9,-1.9,-0.7,-1.7,-2.0,-2.2,-2.0,-0.9,-1.9,-2.8,-2.8,-2.9,-3.1,-1.5,-1.0,-0.9,-2.2,-2.5,-1.8,-1.5,-1.5,-1.6,-1.2,-0.8,-1.8,-1.7];
const cb138StorTrend = [-0.45,-0.4,-0.45,-0.65,-1.05,-1.6,-2.1,-2.45,-2.55,-2.4,-2.15,-1.9,-1.68,-1.5,-1.38,-1.3,-1.3,-1.42,-1.6,-1.82,-2.05,-2.14,-2.08,-1.88,-1.72,-1.7,-1.82,-2.0,-2.18,-2.28,-2.28,-2.2,-2.08,-1.92,-1.75,-1.58,-1.38];
const cb138StorMeas = [2.0,-1.0,-0.8,0.9,2.4,1.3,-2.3,0.4,-1.1,-0.8,-0.4,-2.6,-3.2,-3.2,-3.2,-2.1,-1.8,-2.9,-2.1,-1.5,-1.0,-1.5,-2.1,-1.7,-1.6,-1.3,-1.5,-1.6,-1.4,-1.2,0.6,-1.4,-1.1,-1.0,-1.3,-1.5,-2.0,-2.3,-2.4,-2.5,-2.7,-2.6,-2.8,-2.2,-1.2,-0.4,-1.1,-1.5,-1.3,-1.8,-1.9,-2.4,-2.0,-1.3,-1.5,-2.5,-2.9,-3.0,-2.9,-1.2,-1.2,-1.6,-1.8,-2.5,-2.1,-1.6,-1.4,-1.7,-1.0,-1.0,-1.6,-1.8];
const cb138ZepSeason = [-0.7,-0.6,-1.0,-0.3,-1.3,-1.1,0.6,-0.6,-1.3,-1.2,-2.0,-1.6,-1.8,-1.9,-1.5,-1.3,-2.4,-1.2,-1.0,-1.5,-1.0,-1.7,-2.0,-2.1,-1.6,-2.2,-2.6,-2.7,-2.0,-2.3,-2.7,-2.2,-1.5,-2.6,-1.9,-0.7,-1.6,-1.4,-2.3,-1.6,-2.2,-2.3,-2.6,-3.0,-2.4,-2.6,-2.2,-2.5,-2.6,-3.0,-3.6,-2.7,-2.8,-3.2,-3.4,-2.6,-2.9,-3.2,-3.3,-2.6,-2.5];
const cb138ZepTrend = [-0.6,-0.62,-0.68,-0.8,-0.97,-1.18,-1.4,-1.57,-1.65,-1.66,-1.65,-1.68,-1.76,-1.88,-2.02,-2.12,-2.12,-2.02,-1.9,-1.82,-1.8,-1.88,-2.02,-2.2,-2.4,-2.58,-2.7,-2.77,-2.8,-2.82,-2.82];
const cb138ZepMeas = [-1.9,0.6,-1.3,-0.2,-2.0,0.0,1.4,1.1,-1.5,-0.6,-3.9,-1.2,-1.8,1.4,-2.0,-1.0,-3.5,-4.6,-4.6,-1.5,0.9,-2.2,-1.6,-2.5,-1.8,-2.6,-2.3,-2.9,-2.1,-2.8,-2.0,-2.4,-1.2,-2.9,-1.5,1.0,0.8,-2.0,-1.8,-2.6,-2.5,1.0,-2.9,-2.2,-3.0,-2.4,-2.0,-2.8,-2.4,-4.2,-3.2,-2.5,-3.0,-2.6,-3.4,-2.8,-3.0,-3.5,-4.4,-2.2];
const cb138ZepMeas2 = [-0.1,-1.2,-0.4,-0.9,-0.7,-1.7,1.0,-1.2,-0.8,-1.8,-1.5,-2.1,-1.3,-2.4,-1.0,-1.8,-1.9,-1.7,-0.5,-2.0,-1.6,-1.6,-1.6,-2.6,-1.1,-2.7,-2.1,-3.2,-1.5,-2.8,-2.2,-2.7,-1.0,-3.1,-1.4,-1.2,-1.1,-1.9,-1.8,-2.1,-1.7,-2.8,-2.1,-3.5,-1.9,-3.1,-1.7,-3.0,-2.1,-3.5,-3.1,-3.2,-2.3,-3.7,-2.9,-3.1,-2.4,-3.7,-2.8,-3.1,-2.0];
const cb138PallasSeason = [0.6,0.3,-0.8,-1.2,-1.0,-1.2,-0.8,-1.3,-0.7,-1.0,-1.6,-1.2,-0.9,-0.5,-0.3,-1.4,-2.0,-1.2,-0.6,-1.0,-1.5,-1.3,-0.9,-1.6,-2.1,-1.7,-0.7,-1.8,-2.0,-1.6,-0.6,-2.0,-2.0,-1.6,-0.7,-2.0,-1.8,-1.5,-0.7,-2.3,-1.4,-0.9,-1.3,-1.4,-1.8,-1.6,-1.4,-0.9,-2.0,-1.6,-0.8,-2.2,-2.2,-2.1,-1.8,-2.2,-1.8,-1.6,-2.1,-1.8,-1.4,-1.6,-2.0,-2.6,-1.5,-2.0,-1.7,-2.0,-2.1];
const cb138PallasTrend = [0.4,-0.2,-0.7,-1.0,-1.13,-1.16,-1.15,-1.13,-1.12,-1.13,-1.15,-1.2,-1.28,-1.38,-1.48,-1.56,-1.6,-1.58,-1.52,-1.44,-1.36,-1.3,-1.28,-1.3,-1.36,-1.45,-1.56,-1.68,-1.8,-1.88,-1.9,-1.9,-1.88,-1.85,-1.8];
const cb138PallasMeas = [1.5,1.0,-0.5,-1.4,-2.0,-0.9,-1.1,-0.9,-1.3,-0.8,-1.7,0.5,-0.8,-0.4,-1.8,-1.7,-1.5,-0.9,-0.7,-1.3,-1.4,-1.1,-1.8,-1.6,-2.1,-0.8,-1.5,-1.9,-1.3,-1.0,-1.9,-2.1,-1.2,-1.2,-2.2,-1.5,-1.3,-0.9,0.0,-2.8,-0.5,-1.0,-1.4,-1.6,-1.7,-1.3,-1.1,-1.8,-1.4,-1.5,-2.1,-2.0,-2.2,-1.9,-3.0,-1.7,-1.7,-2.0,-1.8,-1.6,-1.4,-1.8,-4.6,-2.8,-1.5,-1.8,-2.0,-1.9];

// ---------- CB153 ----------
const cb153AlertSeason = [-2.8,-1.2,-0.6,-1.0,-2.1,-1.4,-1.0,-0.6,-1.6,-2.1,-1.2,-1.3,-1.7,-1.6,-1.3,-1.6,-2.8,-1.2,-1.6,-1.3,-1.0,-1.2,-1.3,-1.0,-0.7,-1.6,-2.0,-2.2,-1.6,-2.0,-2.0,-2.2,-2.6,-2.5,-2.6,-1.6,-2.3,null,null,null,-1.7,-1.5,-1.8,-1.4,-1.5,-1.8,-2.3,-3.0,-1.7,-1.2,-1.4,-1.2,-1.8,-1.7,-2.2,-1.0,-0.4,-0.6,-0.7,-0.8,-1.6,-1.3,-1.9,-1.6,-1.7,-1.7,-2.1,-1.8,-1.6,-2.0,-1.8,-1.9,-1.5,-2.2,-1.9,-2.0,-2.1,-1.9,-2.3,-2.6,-2.0];
const cb153AlertTrend = [-1.95,-1.55,-1.28,-1.3,-1.45,-1.58,-1.6,-1.62,-1.68,-1.62,-1.4,-1.2,-1.15,-1.35,-1.75,-1.98,-1.98,-2.3,-3.1,null,-1.65,-1.75,-1.83,-1.86,-1.78,-1.62,-1.45,-1.27,-1.1,-1.05,-1.15,-1.32,-1.5,-1.63,-1.75,-1.86,-1.95,-2.03,-2.1,-2.18,-2.25];
const cb153AlertMeas = [-3.3,0.9,-4.1,0.5,-2.9,-1.8,0.9,-2.9,-3.0,-0.8,0.0,-3.4,-1.2,-2.0,-3.0,-1.5,-4.0,-3.0,-1.1,-3.9,-0.9,-1.7,-0.6,-1.5,0.0,-2.5,3.4,-4.0,-4.0,-1.5,-0.8,-2.6,-3.5,-2.1,-3.3,-2.0,null,null,null,-1.9,-1.3,-2.0,-1.2,-1.7,-1.4,-2.5,-3.2,-2.0,-1.0,-1.6,0.5,-1.6,-0.3,-3.5,-4.0,-0.6,-0.4,-0.9,-0.5,-1.2,-1.8,0.9,-1.6,-2.0,-1.5,-1.9,-3.6,-1.8,-1.5,-2.1,-1.6,-2.0,-1.4,-2.4,-1.7,-2.2,-1.8,-2.5,-2.7,-1.9];
const cb153AlertMeas2 = [-2.3,-1.7,-0.1,-1.5,-1.6,-1.9,-0.5,-1.1,-1.1,-2.6,-0.7,-2.9,-1.2,-2.9,-0.8,-2.1,-2.3,-1.7,-1.1,-1.8,-0.5,-1.7,-0.8,-1.5,-0.2,-2.1,-1.5,-2.7,-1.1,-2.5,-1.5,-2.7,-2.1,-3.0,-2.1,-2.1,-1.8,null,null,null,-1.2,-2.0,-1.3,-1.9,-1.0,-2.3,-1.8,-3.5,-1.2,-1.7,-0.9,-1.7,-1.3,-2.2,-1.7,-1.5,-3.9,-1.1,-0.2,-1.3,-1.1,-1.8,-1.4,-2.1,-1.2,-2.2,-1.6,-2.3,-1.1,-2.5,-1.3,-2.4,-1.0,-2.7,-1.4,-2.5,-1.6,-2.4,-1.8,-3.1,-1.5];
const cb153StorSeason = [0.6,-0.5,-0.9,-1.0,0.5,-0.2,-1.4,-1.9,-0.7,-0.8,-0.9,-0.7,-2.2,-3.0,-2.3,-2.8,-2.0,-1.8,-2.5,-1.6,-0.9,-1.1,-1.1,-1.6,-1.2,-0.6,-1.4,-1.5,-1.5,-1.5,-1.5,-1.4,-1.2,-0.9,-1.2,-1.4,-1.7,-1.8,-1.2,-1.5,-2.3,-2.8,-2.6,-1.5,-0.7,-1.6,-0.8,-1.4,-0.9,-1.5,-2.0,-2.5,-1.6,-0.8,-0.3,-1.8,-2.7,-1.5,-0.5,-2.0,-2.5,-1.3,-0.2,-1.6,-2.0,-1.9,-1.7,-1.5,-1.3,-0.8,-0.3,-1.2,-1.2];
const cb153StorTrend = [0.05,-0.2,-0.45,-0.75,-1.05,-1.38,-1.72,-2.0,-2.15,-2.05,-1.8,-1.55,-1.4,-1.32,-1.28,-1.3,-1.36,-1.48,-1.62,-1.74,-1.8,-1.74,-1.6,-1.47,-1.4,-1.42,-1.5,-1.58,-1.64,-1.66,-1.65,-1.6,-1.52,-1.42,-1.3,-1.16,-1.0];
const cb153StorMeas = [2.1,-0.5,-1.1,2.7,1.8,0.9,-2.3,0.6,-0.8,-0.5,-1.6,-3.0,-2.8,-2.1,-1.4,-2.0,-3.2,-1.2,-0.9,-1.5,-1.3,-0.8,-1.2,-1.6,0.5,-2.4,-1.4,-1.6,-1.3,-1.0,0.0,-1.5,-1.6,-1.9,-1.3,-1.4,-2.7,-2.8,-2.6,-1.1,-1.0,-1.2,-1.1,-1.6,-1.3,-1.8,-2.2,-1.3,-0.6,-0.9,-2.1,-2.4,-2.9,-0.8,-0.1,-2.2,-3.0,-1.3,-0.5,-1.9,-2.1,-1.2,-1.5,-1.9,-1.8,-1.6,-1.4,-1.0,-0.6,-0.9,-1.1,-1.3];
const cb153ZepSeason = [-0.6,-0.5,-1.2,-0.4,-1.2,-1.1,0.2,-0.5,0.2,-0.9,-1.2,-1.6,-1.4,-1.2,-1.7,-2.1,-1.6,-2.2,-1.4,-1.0,-0.7,-1.4,-1.8,-1.6,-1.5,-1.8,-2.3,-1.7,-1.9,-2.2,-1.8,-1.4,-0.4,-1.0,-1.8,-0.8,-0.3,-1.5,-1.3,-1.7,-1.2,-1.8,-2.5,-1.9,-2.4,-1.8,-2.2,-2.5,-1.6,-2.8,-3.1,-2.0,-2.6,-2.0,-2.6,-2.4,-2.6,-3.0,-2.0,-2.4,-2.5];
const cb153ZepTrend = [-0.65,-0.66,-0.68,-0.76,-0.88,-1.02,-1.17,-1.3,-1.38,-1.42,-1.45,-1.48,-1.53,-1.58,-1.63,-1.65,-1.6,-1.5,-1.38,-1.3,-1.32,-1.45,-1.65,-1.85,-2.05,-2.22,-2.33,-2.4,-2.42,-2.42,-2.42];
const cb153ZepMeas = [-1.7,0.6,-1.5,0.0,-2.0,-0.3,1.6,1.9,1.2,-1.2,-1.8,-0.9,-2.5,-1.5,1.9,-2.9,-2.0,-4.6,-4.6,-1.2,1.4,-1.9,-1.3,-2.1,-1.6,-2.4,-2.0,-1.4,-2.5,-1.8,-1.6,-1.9,-0.2,-2.2,-1.4,1.4,-1.0,-1.8,0.8,-1.6,-2.3,1.0,-2.7,-2.0,-2.5,-2.1,-2.6,-2.9,-2.1,-4.1,-2.8,-2.3,-2.8,-2.4,-2.9,-2.2,-3.2,-4.2,-2.3,-2.7];
const cb153ZepMeas2 = [-0.1,-1.1,-0.7,-1.0,-0.7,-1.7,0.8,-1.1,0.7,-1.5,-0.6,-2.2,-0.9,-1.8,-1.1,-2.7,-1.0,-2.8,-0.8,-1.6,-1.6,-1.6,-1.6,-1.6,-1.0,-2.4,-1.7,-2.3,-1.3,-2.8,-1.2,-2.0,0.1,-1.6,-1.2,-1.4,0.3,-2.1,-0.7,-2.3,-0.6,-2.4,-1.9,-2.5,-1.8,-2.4,-1.6,-3.1,-1.0,-3.4,-2.5,-2.6,-2.0,-2.6,-2.0,-3.0,-2.0,-3.6,-1.4,-3.0,-1.9];
const cb153PallasSeason = [0.5,0.5,-0.7,-1.2,-0.9,-1.3,-0.7,-0.5,-0.9,-1.2,-1.0,-1.5,-1.7,-0.6,-0.2,-1.4,-1.9,-1.0,-0.7,-1.3,-1.5,-1.2,-0.9,-1.8,-1.2,-1.1,-0.9,-1.7,-1.5,-0.8,-0.2,-1.8,-1.3,-1.4,-0.8,-1.5,-1.6,-1.0,-0.6,-2.0,-1.5,-0.8,-0.7,-1.8,-1.5,-1.3,-1.2,-1.5,-1.4,-1.8,-2.2,-1.9,-1.8,-1.7,-1.6,-2.0,-1.8,-1.7,-1.5,-2.0,-2.4,-1.5,-1.0,-1.8,-1.9,-1.7,-1.4,-1.9,-1.8];
const cb153PallasTrend = [0.45,-0.15,-0.65,-0.92,-1.04,-1.06,-1.04,-1.03,-1.05,-1.1,-1.16,-1.22,-1.26,-1.28,-1.26,-1.22,-1.2,-1.19,-1.19,-1.19,-1.2,-1.24,-1.32,-1.42,-1.52,-1.62,-1.68,-1.71,-1.72,-1.72,-1.72,-1.71,-1.7,-1.68,-1.67];
const cb153PallasMeas = [1.7,1.1,-0.9,-1.5,-0.8,-1.1,-2.9,-0.6,-1.3,-0.7,-1.6,-1.5,-1.2,0.5,-0.6,-2.1,-1.4,-0.8,-1.1,-1.7,-1.2,-1.0,-1.6,-1.3,-1.5,0.1,-1.6,-1.1,-0.6,0.4,-1.7,-1.2,-1.5,-1.1,-1.8,-1.3,-0.8,-1.2,-2.3,-1.2,-0.9,-0.1,-1.6,-1.4,-1.2,-1.4,-1.6,-1.5,-1.9,-2.0,-1.7,-1.9,-1.5,-2.6,-1.9,-0.4,-1.8,-1.6,-2.2,-2.0,-1.3,-1.6,-1.5,-2.1,-1.6,-2.9,-1.5,-1.8];

// ---------- CB180 ----------
const cb180AlertSeason = [-3.6,-2.2,-0.8,-3.0,-3.0,-2.8,-0.9,-2.7,-3.2,-2.9,-1.7,-3.0,-3.2,-3.1,-1.9,-3.0,-2.6,-3.1,-2.7,-2.9,-2.6,-2.3,-2.2,-2.9,-2.7,-3.2,-3.3,-3.5,-3.7,-3.4,-3.3,-3.6,-4.3,-4.5,-4.2,-3.8,-4.2,null,null,null,-3.5,-2.3,-3.8,-4.6,-3.5,-2.5,-3.8,-4.6,-3.2,-3.2,-2.7,-3.3,-3.5,-3.3,-3.8,-4.1,-1.7,-1.9,-2.1,-2.1,-3.1,-2.2,-1.8,-3.2,-3.7,-2.9,-3.7,-3.4,-3.3,-3.6,-3.9,-3.6,-3.5,-4.0,-3.8,-3.2,-2.6,-0.9,-1.5,-3.5,-2.9];
const cb180AlertTrend = [-2.6,-2.35,-2.28,-2.35,-2.5,-2.65,-2.73,-2.76,-2.76,-2.76,-2.75,-2.77,-2.88,-3.05,-3.3,-3.5,-3.65,-3.95,-4.35,null,-3.4,-3.47,-3.52,-3.52,-3.48,-3.38,-3.25,-3.08,-2.88,-2.66,-2.5,-2.42,-2.5,-2.7,-2.92,-3.12,-3.28,-3.38,-3.32,-3.05,-2.6];
const cb180AlertMeas = [-4.5,0.8,-0.1,-4.1,-3.3,-3.4,1.7,0.1,-3.3,-2.5,-1.2,-3.4,-2.8,-3.4,-1.0,-3.3,-4.5,-2.7,-4.4,-2.5,-3.1,-1.9,-2.7,-1.8,-3.1,-4.4,3.1,-3.7,-3.2,-3.9,-0.8,-4.2,-4.5,-4.4,-4.3,-2.6,null,null,null,-3.3,-2.6,-0.9,-4.7,-4.7,-3.0,-2.9,-4.7,-4.6,-3.4,-2.9,-3.1,-3.6,-3.8,-1.0,-4.0,-3.5,-1.5,-2.2,-1.8,-2.4,-2.9,-2.4,-0.3,-3.4,-3.3,-4.6,-3.2,-3.6,-3.4,-6.0,-4.0,-3.7,-3.3,-4.1,-3.6,-2.9,-2.1,-0.5,-2.8,-3.6];
const cb180AlertMeas2 = [-3.1,-2.7,-1.3,-3.3,-3.3,-3.3,-1.4,-3.3,-3.3,-3.3,-2.2,-3.3,-3.3,-3.5,-2.4,-3.3,-3.1,-3.3,-2.2,-3.3,-2.1,-2.8,-1.7,-3.4,-2.2,-3.7,-2.8,-4.0,-3.2,-3.9,-2.8,-4.1,-4.5,-4.4,-4.5,-4.3,-4.4,null,null,null,-3.0,-2.8,-3.3,-4.7,-3.0,-3.0,-3.3,-4.7,-2.7,-3.7,-2.2,-3.8,-3.0,-3.8,-3.3,-4.6,-2.2,-1.5,-2.6,-1.6,-3.6,-1.7,-2.3,-2.7,-4.2,-2.4,-4.2,-2.9,-3.8,-3.1,-4.4,-3.1,-4.0,-3.5,-4.3,-2.7,-3.1,-1.4,-2.0,-3.0,-3.4];
const cb180StorSeason = [0.2,0.5,0.3,-0.2,-0.5,-1.2,-1.4,-2.2,-1.4,-1.2,-2.2,-1.2,-3.0,-3.2,-3.1,-3.2,-2.5,-3.0,-3.1,-2.8,-1.5,-1.4,-2.4,-2.1,-1.8,-1.5,-1.8,-2.0,-1.9,-2.1,-2.0,-1.7,-1.5,-1.4,-1.7,-1.8,-1.8,-1.9,-2.0,-2.4,-2.7,-2.7,-2.6,-2.0,-1.6,-2.3,-2.2,-2.0,-1.8,-1.9,-2.1,-2.2,-2.3,-2.3,-2.3,-2.4,-2.8,-3.0,-2.9,-2.9,-2.5,-2.1,-2.7,-2.7,-2.1,-2.0,-2.2,-2.3,-2.3];
const cb180StorTrend = [0.35,0.1,-0.45,-1.05,-1.7,-2.3,-2.72,-2.85,-2.78,-2.55,-2.28,-2.05,-1.92,-1.86,-1.85,-1.86,-1.87,-1.88,-1.9,-1.95,-2.03,-2.12,-2.2,-2.21,-2.2,-2.22,-2.28,-2.38,-2.5,-2.62,-2.66,-2.62,-2.52,-2.38,-2.25];
const cb180StorMeas = [-0.9,0.3,-0.1,1.3,1.0,0.0,-2.3,-1.5,-0.9,-2.0,1.2,-2.5,-3.1,-3.3,-2.9,-1.7,-3.2,-2.8,-2.1,-1.3,-1.9,-2.3,-0.7,-1.7,-1.9,-2.2,-1.8,-2.0,-1.9,-1.6,-0.7,-1.5,-1.7,-1.9,-1.8,-2.1,-1.9,-2.3,-2.6,-2.8,-2.4,-0.6,-1.9,-2.3,-2.1,-1.9,-1.0,-2.0,-2.2,-2.3,-2.1,-2.4,-2.2,-0.8,-2.6,-2.9,-3.0,-2.8,-2.6,-1.0,0.0,-2.8,-2.4,-2.1,-2.0,-2.2,-2.3,-2.2];
const cb180ZepSeason = [-1.2,-2.0,-2.4,-1.6,-2.3,-2.6,0.2,-1.3,-2.5,-2.9,-2.6,-2.4,-3.1,-2.8,-3.4,-3.0,-3.6,-2.6,-3.5,-4.4,-2.8,-4.3,-3.0,-3.2,-3.4,-3.6,-4.0,-3.2,-2.9,-3.8,-4.0,-3.3,-2.8,-2.6,-3.6,-2.5,-1.8,-3.3,-2.7,-3.9,-2.9,-3.6,-4.0,-3.3,-4.1,-3.6,-4.2,-3.7,-3.9,-4.3,-4.4,-4.0,-4.4,-3.9,-4.6,-3.8,-4.2,-4.6,-3.8,-4.3,-4.7];
const cb180ZepTrend = [-1.85,-1.8,-1.78,-1.77,-1.82,-2.1,-2.45,-2.8,-3.05,-3.25,-3.33,-3.38,-3.38,-3.35,-3.27,-3.15,-3.0,-2.87,-2.8,-2.88,-3.05,-3.28,-3.5,-3.72,-3.9,-4.02,-4.12,-4.2,-4.27,-4.35,-4.42];
const cb180ZepMeas = [-1.8,-0.6,-3.0,-4.6,-1.5,-1.0,0.8,0.5,-4.6,-2.4,-2.8,-2.6,-3.4,0.6,-3.3,-1.6,-4.6,-1.6,-4.6,-0.5,-0.7,-3.6,-4.6,-3.3,-2.9,-3.8,-3.5,-3.4,-1.3,-3.6,-3.9,-2.9,-2.6,-0.3,-3.0,0.1,-2.5,-3.2,-4.6,-2.9,-3.6,0.4,-3.9,-4.2,-3.5,-4.6,-3.8,-4.1,-4.4,-3.9,-4.5,-4.2,-3.8,-4.6,-4.0,-4.5,-5.2,-6.0,-4.3,-5.0];
const cb180ZepMeas2 = [-1.7,-2.6,-1.8,-2.2,-1.7,-3.2,0.6,-1.8,-2.0,-3.5,-2.1,-3.0,-2.6,-3.4,-2.9,-3.6,-4.6,-2.1,-4.6,-1.6,-1.6,-4.6,-2.5,-3.8,-2.9,-4.2,-3.5,-3.8,-2.4,-4.4,-3.5,-3.9,-2.3,-3.2,-3.1,-3.1,-1.3,-3.9,-2.2,-4.5,-2.4,-4.2,-3.5,-3.9,-3.6,-4.2,-3.7,-4.3,-3.4,-4.9,-3.9,-4.6,-3.9,-4.5,-4.1,-4.4,-3.7,-5.2,-3.3,-4.9,-4.2];
const cb180PallasSeason = [0.6,0.0,-0.6,-1.9,-2.3,-2.0,-1.9,-2.6,-2.3,-2.0,-1.6,-2.3,-3.0,-2.4,-1.3,-2.4,-3.9,-2.5,-1.8,-2.6,-3.0,-2.7,-2.2,-3.1,-2.0,-3.0,-2.2,-2.0,-3.3,-2.9,-1.8,-3.2,-3.1,-3.0,-2.9,-2.8,-3.0,-2.6,-1.8,-4.0,-2.5,-3.1,-3.2,-2.7,-3.3,-2.8,-3.2,-3.2,-3.9,-2.8,-4.0,-4.5,-3.5,-3.6,-3.1,-3.4,-3.4,-3.2,-3.5,-3.0,-3.2,-2.9,-3.3,-3.9,-3.1,-2.9,-2.7,-3.6,-3.4];
const cb180PallasTrend = [0.25,-0.7,-1.55,-2.05,-2.28,-2.36,-2.4,-2.44,-2.48,-2.53,-2.58,-2.63,-2.67,-2.71,-2.75,-2.79,-2.83,-2.86,-2.89,-2.92,-2.95,-2.98,-3.02,-3.08,-3.18,-3.32,-3.46,-3.55,-3.52,-3.45,-3.4,-3.36,-3.33,-3.31,-3.3];
const cb180PallasMeas = [0.8,-0.4,-1.7,-2.3,-2.1,-1.5,-2.4,-1.9,-1.8,-2.2,-2.5,-2.6,-0.7,-4.2,-2.1,-4.2,-4.2,-2.0,-2.4,-2.8,-3.2,-2.5,-2.6,-2.8,-2.3,0.2,-1.3,-5.3,-2.6,-3.0,-1.3,-3.3,-5.3,-2.8,-3.0,-2.6,-2.1,-2.8,-3.4,-2.9,-2.8,-1.4,-3.1,-3.5,-2.9,-1.5,-3.6,-3.3,-4.0,-3.8,-3.5,-3.3,-3.6,-3.2,-3.4,-3.1,-3.4,-3.0,-3.2,-3.1,-3.4,-4.4,-3.0,-2.8,-3.1,-3.4,-3.2,-3.5];

const xTickYears = [1995, 2000, 2005, 2010];
const seriesNames = ['Measured', 'Seasonal cycle', 'Trend'];

// ---------- layout ----------
const FONT = '"Open Sans", "Noto Sans", "DejaVu Sans", sans-serif';
const FS = 26;
const COLORS = { meas: '#9c9c9c', season: '#2e3192', trend: '#ec008c' };
const X_MIN = 1992.45, X_MAX = 2012.6;
const PANEL_W = 916;
const COL_LEFT = [[53, 1079], [2125, 3153]];
const CROSS = 'path://M0,0L10,10M10,0L0,10';

const panels = [
  { col: 0, sub: 0, top: 74, bottom: 348, min: -3, max: 4, step: 1, site: 'Alert', t0: stationStart.alert, s: cb28AlertSeason, t: cb28AlertTrend, m: cb28AlertMeas, m2: cb28AlertMeas2, note: 'Alert (after 2003,PCB 28+31)' },
  { col: 0, sub: 1, top: 73, bottom: 349, min: -3, max: 5, step: 1, site: 'Stórhöfði', t0: stationStart.stor, s: cb28StorSeason, t: cb28StorTrend, m: cb28StorMeas },
  { col: 0, sub: 0, top: 428, bottom: 686, min: -3, max: 5, step: 1, site: 'Zeppelin', t0: stationStart.zep, s: cb28ZepSeason, t: cb28ZepTrend, m: cb28ZepMeas, m2: cb28ZepMeas2 },
  { col: 0, sub: 1, top: 396, bottom: 685, min: -2, max: 3, step: 1, site: 'Pallas', t0: stationStart.pallas, s: cb28PallasSeason, t: cb28PallasTrend, m: cb28PallasMeas },

  { col: 0, sub: 0, top: 800, bottom: 1074, min: -3, max: 3, step: 1, site: 'Alert', t0: stationStart.alert, s: cb52AlertSeason, t: cb52AlertTrend, m: cb52AlertMeas, m2: cb52AlertMeas2 },
  { col: 0, sub: 1, top: 800, bottom: 1080, min: -3, max: 4, step: 1, site: 'Stórhöfði', t0: stationStart.stor, s: cb52StorSeason, t: cb52StorTrend, m: cb52StorMeas },
  { col: 0, sub: 0, top: 1125, bottom: 1419, min: -3, max: 4, step: 1, site: 'Zeppelin', t0: stationStart.zep, s: cb52ZepSeason, t: cb52ZepTrend, m: cb52ZepMeas, m2: cb52ZepMeas2 },
  { col: 0, sub: 1, top: 1127, bottom: 1417, min: -2, max: 3, step: 1, site: 'Pallas', t0: stationStart.pallas, s: cb52PallasSeason, t: cb52PallasTrend, m: cb52PallasMeas },

  { col: 0, sub: 0, top: 1524, bottom: 1814, min: -4, max: 3, step: 1, site: 'Alert', t0: stationStart.alert, s: cb101AlertSeason, t: cb101AlertTrend, m: cb101AlertMeas, m2: cb101AlertMeas2 },
  { col: 0, sub: 1, top: 1523, bottom: 1813, min: -4, max: 4, step: 1, site: 'Stórhöfði', t0: stationStart.stor, s: cb101StorSeason, t: cb101StorTrend, m: cb101StorMeas },
  { col: 0, sub: 0, top: 1860, bottom: 2150, min: -4, max: 4, step: 1, site: 'Zeppelin', t0: stationStart.zep, s: cb101ZepSeason, t: cb101ZepTrend, m: cb101ZepMeas, m2: cb101ZepMeas2 },
  { col: 0, sub: 1, top: 1858, bottom: 2148, min: -2, max: 3, step: 1, site: 'Pallas', t0: stationStart.pallas, s: cb101PallasSeason, t: cb101PallasTrend, m: cb101PallasMeas },

  { col: 0, sub: 0, top: 2252, bottom: 2541, min: -5, max: 6, step: 2, site: 'Alert', t0: stationStart.alert, s: cb118AlertSeason, t: cb118AlertTrend, m: cb118AlertMeas, m2: cb118AlertMeas2 },
  { col: 0, sub: 1, top: 2252, bottom: 2541, min: -4, max: 6, step: 2, site: 'Stórhöfði', t0: stationStart.stor, s: cb118StorSeason, t: cb118StorTrend, m: cb118StorMeas },
  { col: 0, sub: 0, top: 2591, bottom: 2877, min: -4, max: 6, step: 2, site: 'Zeppelin', t0: stationStart.zep, s: cb118ZepSeason, t: cb118ZepTrend, m: cb118ZepMeas, m2: cb118ZepMeas2, years: true },
  { col: 0, sub: 1, top: 2587, bottom: 2877, min: -4, max: 6, step: 2, site: 'Pallas', t0: stationStart.pallas, s: cb118PallasSeason, t: cb118PallasTrend, m: cb118PallasMeas, years: true },

  { col: 1, sub: 0, top: 68, bottom: 403, min: -6, max: 5, step: 2, site: 'Alert', t0: stationStart.alert, s: cb138AlertSeason, t: cb138AlertTrend, m: cb138AlertMeas, m2: cb138AlertMeas2, note: 'Alert (after 2003, PCB 138+163+164)' },
  { col: 1, sub: 1, top: 66, bottom: 403, min: -6, max: 4, step: 2, site: 'Stórhöfði', t0: stationStart.stor, s: cb138StorSeason, t: cb138StorTrend, m: cb138StorMeas },
  { col: 1, sub: 0, top: 480, bottom: 810, min: -6, max: 4, step: 2, site: 'Zeppelin', t0: stationStart.zep, s: cb138ZepSeason, t: cb138ZepTrend, m: cb138ZepMeas, m2: cb138ZepMeas2 },
  { col: 1, sub: 1, top: 478, bottom: 810, min: -6, max: 4, step: 2, site: 'Pallas', t0: stationStart.pallas, s: cb138PallasSeason, t: cb138PallasTrend, m: cb138PallasMeas },

  { col: 1, sub: 0, top: 939, bottom: 1265, min: -5, max: 4, step: 2, site: 'Alert', t0: stationStart.alert, s: cb153AlertSeason, t: cb153AlertTrend, m: cb153AlertMeas, m2: cb153AlertMeas2 },
  { col: 1, sub: 1, top: 935, bottom: 1266, min: -4, max: 3, step: 1, site: 'Stórhöfði', t0: stationStart.stor, s: cb153StorSeason, t: cb153StorTrend, m: cb153StorMeas },
  { col: 1, sub: 0, top: 1343, bottom: 1659, min: -5, max: 3, step: 1, site: 'Zeppelin', t0: stationStart.zep, s: cb153ZepSeason, t: cb153ZepTrend, m: cb153ZepMeas, m2: cb153ZepMeas2 },
  { col: 1, sub: 1, top: 1341, bottom: 1658, min: -3, max: 3, step: 1, site: 'Pallas', t0: stationStart.pallas, s: cb153PallasSeason, t: cb153PallasTrend, m: cb153PallasMeas },

  { col: 1, sub: 0, top: 1785, bottom: 2099, min: -6, max: 5, step: 2, site: 'Alert', t0: stationStart.alert, s: cb180AlertSeason, t: cb180AlertTrend, m: cb180AlertMeas, m2: cb180AlertMeas2 },
  { col: 1, sub: 1, top: 1780, bottom: 2097, min: -6, max: 3, step: 2, site: 'Stórhöfði', t0: stationStart.stor, s: cb180StorSeason, t: cb180StorTrend, m: cb180StorMeas },
  { col: 1, sub: 0, top: 2168, bottom: 2479, min: -6, max: 3, step: 2, site: 'Zeppelin', t0: stationStart.zep, s: cb180ZepSeason, t: cb180ZepTrend, m: cb180ZepMeas, m2: cb180ZepMeas2, years: true },
  { col: 1, sub: 1, top: 2166, bottom: 2478, min: -6, max: 2, step: 2, site: 'Pallas', t0: stationStart.pallas, s: cb180PallasSeason, t: cb180PallasTrend, m: cb180PallasMeas, years: true }
];

const compoundTitles = [
  { text: 'CB28', x: 1002, y: 26 }, { text: 'CB52', x: 1004, y: 754 },
  { text: 'CB101', x: 1004, y: 1474 }, { text: 'CB118', x: 1004, y: 2204 },
  { text: 'CB138', x: 3076, y: 25 }, { text: 'CB153', x: 3076, y: 894 }, { text: 'CB180', x: 3076, y: 1734 }
];

// values -> [year, value] pairs
function toPoints(vals, start, step) {
  return vals.map((v, i) => [start + i * step, v === null ? '-' : v]);
}

function textEl(text, x, y, align) {
  return {
    type: 'text', x: x, y: y, silent: true,
    style: { text: text, fill: '#000', fontSize: FS, fontFamily: FONT, align: align, verticalAlign: 'middle' }
  };
}

function measuredSeries(i, data) {
  return {
    type: 'scatter', name: seriesNames[0], xAxisIndex: i, yAxisIndex: i, z: 1, silent: true,
    data: data, symbol: CROSS, symbolSize: 9,
    itemStyle: { color: 'rgba(0,0,0,0)', borderColor: COLORS.meas, borderWidth: 1.4 }
  };
}

const grid = [], xAxis = [], yAxis = [], series = [], graphic = [];

panels.forEach(function (p, i) {
  const left = COL_LEFT[p.col][p.sub];
  grid.push({ left: left, top: p.top, width: PANEL_W, height: p.bottom - p.top, containLabel: false, outerBoundsMode: 'none' });
  xAxis.push({
    type: 'value', gridIndex: i, min: X_MIN, max: X_MAX,
    splitLine: { show: false },
    axisLine: { show: true, onZero: false, lineStyle: { color: '#000', width: 2.6 } },
    axisTick: { show: true, customValues: xTickYears, length: 13, lineStyle: { color: '#000', width: 2 } },
    axisLabel: {
      show: !!p.years, customValues: xTickYears, margin: 21,
      fontSize: FS, fontFamily: FONT, color: '#000',
      formatter: function (v) { return String(v); }
    }
  });
  yAxis.push({
    type: 'value', gridIndex: i, min: p.min, max: p.max, interval: 1,
    splitLine: { show: false },
    axisLine: { show: true, onZero: false, lineStyle: { color: '#000', width: 2 } },
    axisTick: { show: true, length: 10, lineStyle: { color: '#000', width: 2 } },
    axisLabel: {
      margin: 24, fontSize: FS, fontFamily: FONT, color: '#000',
      formatter: function (v) { return (p.step === 2 && Math.round(v) % 2 !== 0) ? '' : String(v); }
    }
  });

  series.push(measuredSeries(i, toPoints(p.m, p.t0 + 0.125, 0.25)));
  if (p.m2) series.push(measuredSeries(i, toPoints(p.m2, p.t0, 0.25)));
  series.push({
    type: 'line', name: seriesNames[1], xAxisIndex: i, yAxisIndex: i, z: 2, silent: true,
    data: toPoints(p.s, p.t0, 0.25),
    symbol: 'none', smooth: 0.4,
    lineStyle: { color: COLORS.season, width: 3 }, itemStyle: { color: COLORS.season }
  });
  series.push({
    type: 'line', name: seriesNames[2], xAxisIndex: i, yAxisIndex: i, z: 3, silent: true,
    data: toPoints(p.t, p.t0, 0.5),
    symbol: 'none', smooth: 0.5,
    lineStyle: { color: COLORS.trend, width: 3 }, itemStyle: { color: COLORS.trend }
  });

  const right = left + PANEL_W;
  graphic.push(textEl(p.site, right - 21, p.top + 47, 'right'));
  if (p.note) graphic.push(textEl(p.note, right - 18, p.bottom - 24, 'right'));
});

compoundTitles.forEach(function (t) { graphic.push(textEl(t.text, t.x, t.y, 'center')); });
graphic.push(textEl('ln concentration in air, pg/m³', 3, 26, 'left'));
graphic.push(textEl('ln concentration in air, pg/m³', 2069, 25, 'left'));

function legendItem(name, left, top, icon, w, h) {
  return {
    left: left, top: top, padding: 0, selectedMode: false,
    itemWidth: w, itemHeight: h, icon: icon,
    data: [name],
    textStyle: { fontSize: FS, fontFamily: FONT, color: '#000' }
  };
}

const legend = [
  legendItem('Measured', 733, 2943, CROSS, 9, 9),
  legendItem('Seasonal cycle', 912, 2943, 'rect', 38, 3),
  legendItem('Trend', 1174, 2943, 'rect', 40, 3),
  legendItem('Measured', 2806, 2555, CROSS, 9, 9),
  legendItem('Seasonal cycle', 2981, 2555, 'rect', 38, 3),
  legendItem('Trend', 3243, 2555, 'rect', 40, 3)
];

const chart = echarts.init(document.getElementById('chart'), null, { renderer: 'canvas' });
chart.setOption({
  backgroundColor: '#fff',
  animation: false,
  grid: grid,
  xAxis: xAxis,
  yAxis: yAxis,
  series: series,
  legend: legend,
  graphic: graphic
});
</script>
</body>
</html>
